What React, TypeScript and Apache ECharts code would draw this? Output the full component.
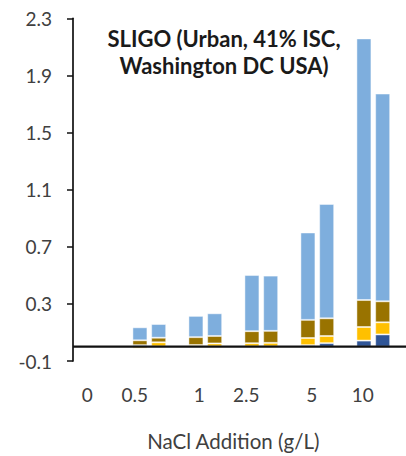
import { useEffect, useRef } from "react";
import * as echarts from "echarts";

const categories = ["0", "0.5", "1", "2.5", "5", "10"];

// Left bar of each pair, stacked bottom to top
const darkBlueA = [null, 0.011, 0.002, 0.002, 0.011, 0.043];
const yellowA = [null, -0.013, 0.01, 0.023, 0.05, 0.095];
const brownA = [null, 0.034, 0.055, 0.084, 0.127, 0.189];
const lightBlueA = [null, 0.091, 0.149, 0.393, 0.612, 1.832];

// Right bar of each pair, stacked bottom to top
const darkBlueB = [null, 0.002, 0.002, 0.002, 0.025, 0.086];
const yellowB = [null, 0.029, 0.021, 0.025, 0.05, 0.085];
const brownB = [null, 0.032, 0.052, 0.084, 0.124, 0.147];
const lightBlueB = [null, 0.096, 0.159, 0.387, 0.801, 1.455];

const Y_MIN = -0.1;
const Y_MAX = 2.3;
const Y_STEP = 0.4;

const TITLE = "SLIGO (Urban, 41% ISC,\nWashington DC USA)";
const X_NAME = "NaCl Addition (g/L)";

// layout
const W = 406;
const H = 456;
const GRID_LEFT = 65.3;
const GRID_RIGHT = 4.7;
const GRID_TOP = 18.3;
const GRID_BOTTOM = 86;
const Y_AXIS_SHIFT = 7.7;
// right padding per x label, nudging each label leftwards
const LABEL_PAD_RIGHT = [12, 29, 12, 30, 11, 21];

const FONT = "Lato, 'Open Sans', sans-serif";
const TEXT_COLOR = "#404040";

const COLORS = {
  darkBlue: "#2F5597",
  yellow: "#FFC000",
  brown: "#997300",
  lightBlue: "#7EAEDD",
};

function barSeries(name: string, stack: string, data: (number | null)[], color: string) {
  return {
    name,
    type: "bar",
    stack,
    data,
    barWidth: 15,
    barGap: "25%",
    itemStyle: {
      color,
      borderColor: "rgba(255,255,255,0.45)",
      borderWidth: 1,
    },
  };
}

export default function App() {
  const ref = useRef<HTMLDivElement>(null);

  useEffect(() => {
    if (!ref.current) return;
    const chart = echarts.init(ref.current, null, { renderer: "svg" });

    const rich: Record<string, any> = {};
    LABEL_PAD_RIGHT.forEach((p, i) => {
      rich["l" + i] = {
        padding: [0, p, 0, 0],
        fontSize: 19,
        fontFamily: FONT,
        color: TEXT_COLOR,
      };
    });

    chart.setOption({
      animation: false,
      grid: {
        left: GRID_LEFT,
        right: GRID_RIGHT,
        top: GRID_TOP,
        bottom: GRID_BOTTOM,
        containLabel: false,
      },
      xAxis: {
        type: "category",
        data: categories,
        axisLine: { show: false, onZero: false },
        axisTick: { show: false },
        axisLabel: {
          margin: 24,
          fontSize: 19,
          fontFamily: FONT,
          color: TEXT_COLOR,
          interval: 0,
          formatter: (v: string, i: number) => `{l${i}|${v}}`,
          rich,
        },
        name: X_NAME,
        nameLocation: "middle",
        nameGap: 69,
        nameTextStyle: {
          fontSize: 20.5,
          fontFamily: FONT,
          color: TEXT_COLOR,
        },
      },
      yAxis: {
        type: "value",
        min: Y_MIN,
        max: Y_MAX,
        interval: Y_STEP,
        offset: -Y_AXIS_SHIFT,
        splitLine: { show: false },
        axisLine: { show: true, lineStyle: { color: "#111", width: 1.7 } },
        axisTick: { show: true, length: 6, lineStyle: { color: "#111", width: 1.5 } },
        axisLabel: {
          margin: 21,
          fontSize: 19,
          fontFamily: FONT,
          color: TEXT_COLOR,
          formatter: (v: number) => v.toFixed(1),
        },
      },
      series: [
        barSeries("Dark blue (A)", "A", darkBlueA, COLORS.darkBlue),
        barSeries("Yellow (A)", "A", yellowA, COLORS.yellow),
        barSeries("Brown (A)", "A", brownA, COLORS.brown),
        barSeries("Light blue (A)", "A", lightBlueA, COLORS.lightBlue),
        barSeries("Dark blue (B)", "B", darkBlueB, COLORS.darkBlue),
        barSeries("Yellow (B)", "B", yellowB, COLORS.yellow),
        barSeries("Brown (B)", "B", brownB, COLORS.brown),
        barSeries("Light blue (B)", "B", lightBlueB, COLORS.lightBlue),
      ],
    });

    // zero baseline running from the value axis to the right edge
    const y0 = chart.convertToPixel({ yAxisIndex: 0 }, 0) as number;
    chart.setOption({
      graphic: [
        {
          type: "line",
          z: 10,
          shape: { x1: GRID_LEFT + Y_AXIS_SHIFT, y1: y0, x2: W, y2: y0 },
          style: { stroke: "#111", lineWidth: 2.3 },
        },
        {
          type: "text",
          x: 224,
          y: 25,
          style: {
            text: TITLE,
            textAlign: "center",
            textVerticalAlign: "top",
            font: `bold 22px ${FONT}`,
            lineHeight: 27,
            fill: "#1a1a1a",
          },
        },
      ],
    });

    return () => chart.dispose();
  }, []);

  return (
    <div
      ref={ref}
      style={{ position: "fixed", left: 0, top: 0, width: W, height: H, background: "#fff" }}
    />
  );
}
